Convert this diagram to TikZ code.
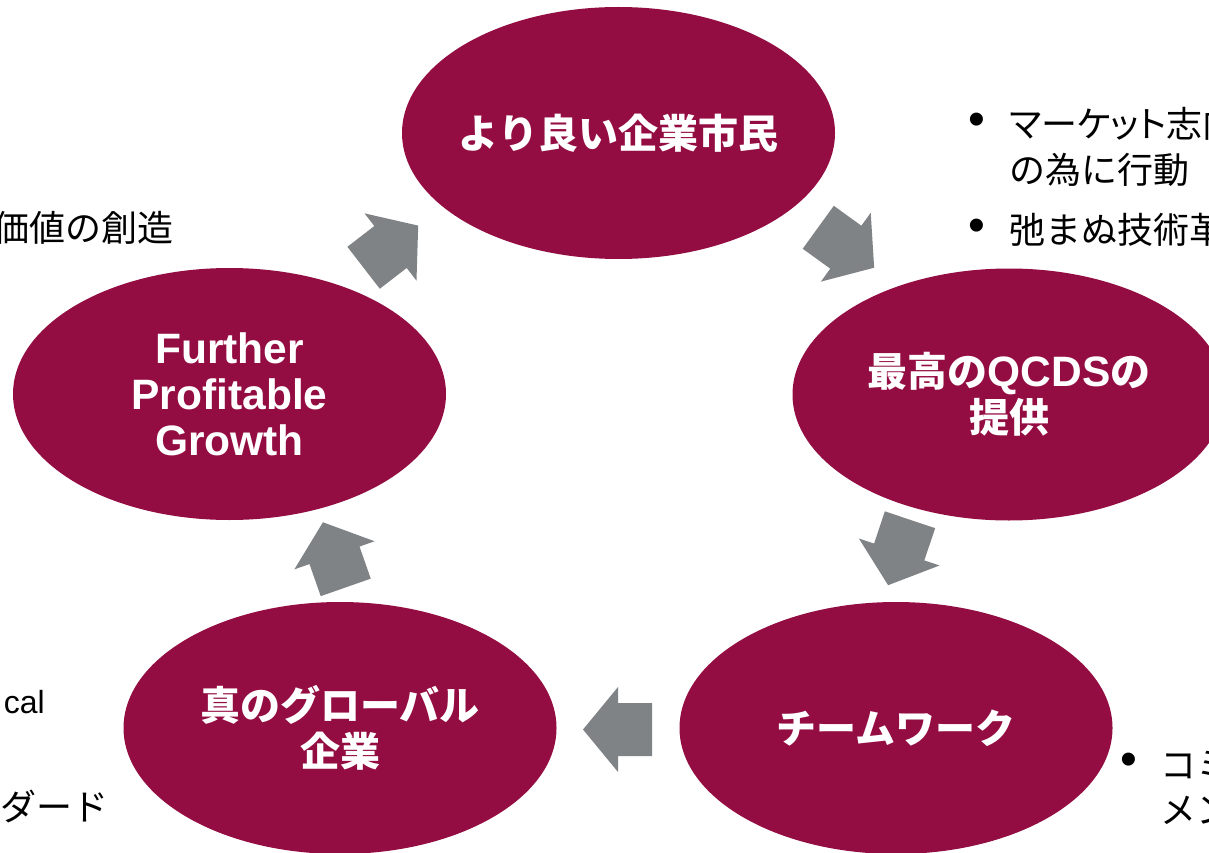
\documentclass[tikz,border=0pt]{standalone}
\usepackage{fontspec}
\setmainfont{Liberation Sans}
\newfontfamily\cjk{Noto Sans CJK JP}
\newfontfamily\cjkprop{Noto Sans CJK JP}[RawFeature=+palt]
\usetikzlibrary{shapes.geometric}
\definecolor{maroon}{RGB}{148,13,66}
\definecolor{arrowgray}{RGB}{127,131,134}
\newcommand\bubblefont{\fontsize{42.5}{46}\selectfont\bfseries}
\newcommand\jpb[1]{{\fontsize{40}{46}\selectfont\cjk #1}}
\newcommand\notefont{\fontsize{36}{45}\selectfont}
\newcommand\blockarrowat[4]{%
  \path[blockarrow, shift={(#2,#3)}, rotate=#4]
    (35,0) -- (0,42.5) -- (0,26.5) -- (-34,26.5) -- (-34,-26.5)
    -- (0,-26.5) -- (0,-42.5) -- cycle;
  \coordinate (#1) at (#2,#3);}
\begin{document}
\begin{tikzpicture}[x=1pt,y=-1pt,
  bubble/.style={ellipse, fill=maroon, draw=none, minimum width=433pt,
    minimum height=252pt, inner sep=0pt},
  bubbletext/.style={text=white, font=\bubblefont, align=center, inner sep=0pt},
  blockarrow/.style={fill=arrowgray, draw=none},
  note/.style={font=\notefont, inner sep=0pt, text=black},
  bulletmark/.style={font=\fontsize{48}{48}\selectfont, inner sep=0pt, anchor=center}]
\useasboundingbox (0,0) rectangle (1209,853);
\clip (0,0) rectangle (1209,853);
\fill[white] (0,0) rectangle (1209,853);

% bubbles
\node[bubble] (top) at (618.5,133) {};
\node[bubbletext] (topt) at (top.center) {\jpb{より良い企業市民}};
\node[bubble] (right) at (1009,394.5) {};
\node[bubbletext] (rightt) at (right.center) {\jpb{最高の}QCDS\jpb{の}\\\jpb{提供}};
\node[bubble] (team) at (896,728) {};
\node[bubbletext] (teamt) at (team.center) {\jpb{チームワーク}};
\node[bubble] (global) at (340,728) {};
\node[bubbletext] (globalt) at (global.center) {\jpb{真のグローバル}\\\jpb{企業}};
\node[bubble] (growth) at (229.5,394) {};
\node[bubbletext] (growtht) at (growth.center) {Further\\Profitable\\Growth};

% block arrows
\blockarrowat{a1}{390.5}{247}{37.7}
\blockarrowat{a2}{845.8}{247.2}{-35.9}
\blockarrowat{a3}{899.2}{552}{-108.5}
\blockarrowat{a4}{618}{729.5}{180}
\blockarrowat{a5}{334.5}{555.3}{109.3}

% side notes
\node[bulletmark] (b1) at (977,124) {•};
\node[note, anchor=base west] (t1) at (1009,138) {\cjkprop マーケット志向};
\node[note, anchor=base west] (t1b) at (1009,183) {\cjk の為に行動};
\node[bulletmark] (b2) at (977,230) {•};
\node[note, anchor=base west] (t2) at (1009,243) {\cjk 弛まぬ技術革};
\node[bulletmark] (b3) at (1129,764) {•};
\node[note, anchor=base west] (t3) at (1160,778) {\cjk コミ};
\node[note, anchor=base west] (t3b) at (1160,823) {\cjk メン};
\node[note, anchor=base east] (l1) at (174,241) {\cjk 価値の創造};
\node[note, anchor=base east, font=\fontsize{32}{38}\selectfont] (l2) at (45,713) {cal};
\node[note, anchor=base east] (l3) at (109,820) {\cjk ンダード};
\end{tikzpicture}
\end{document}
